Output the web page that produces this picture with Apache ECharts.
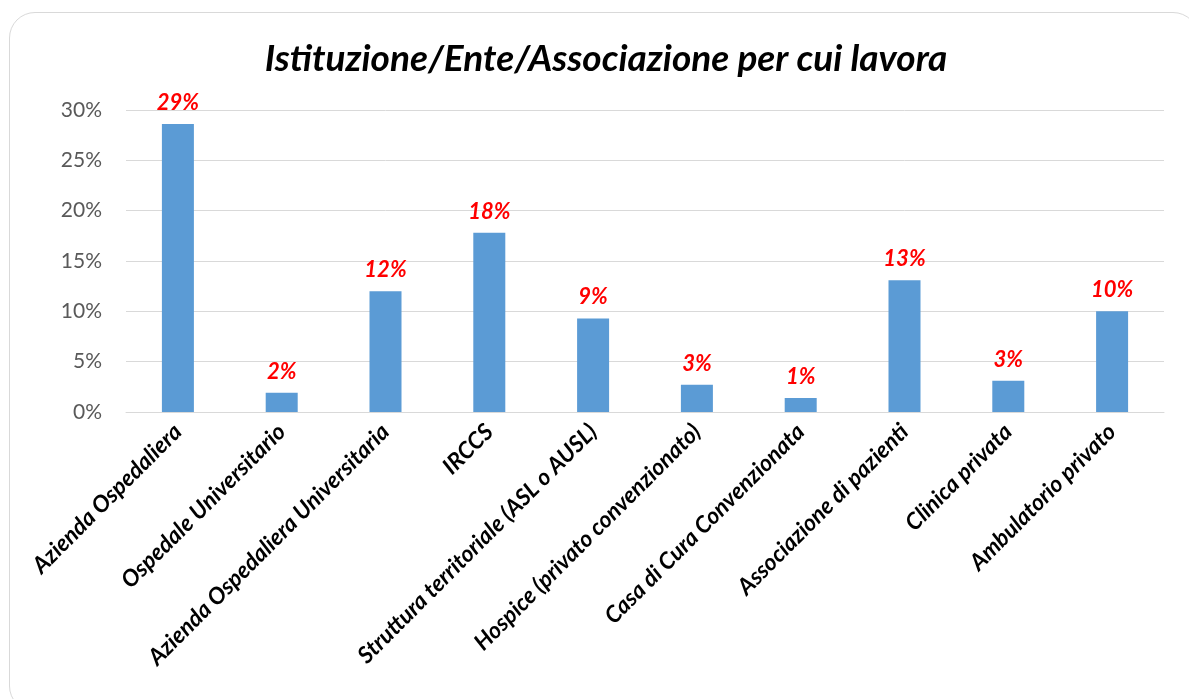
<!DOCTYPE html>
<html lang="it">
<head>
    <meta charset="UTF-8">
    <title>Istituzione/Ente/Associazione per cui lavora</title>
    <script src="https://cdn.jsdelivr.net/npm/echarts@6/dist/echarts.min.js"></script>
    <style>
        html, body { margin: 0; padding: 0; background: #fff; overflow: hidden; }
        #frame {
            position: absolute; left: 9px; top: 12px;
            width: 1190px; height: 700px;
            border: 1px solid #d9d9d9; border-radius: 26px;
            box-sizing: border-box;
        }
        #main { position: absolute; left: 0; top: 0; width: 1189px; height: 699px; }
    </style>
</head>
<body>
    <div id="frame"></div>
    <div id="main"></div>
    <script>
        // categorie e valori (frazione)
        var categorie = [
            'Azienda Ospedaliera',
            'Ospedale Universitario',
            'Azienda Ospedaliera Universitaria',
            'IRCCS',
            'Struttura territoriale (ASL o AUSL)',
            'Hospice (privato convenzionato)',
            'Casa di Cura Convenzionata',
            'Associazione di pazienti',
            'Clinica privata',
            'Ambulatorio privato'
        ];
        var valori = [0.286, 0.019, 0.120, 0.178, 0.093, 0.027, 0.014, 0.131, 0.031, 0.100];
        var tickY = [0, 0.05, 0.10, 0.15, 0.20, 0.25, 0.30];

        var font = 'Lato, "Open Sans", sans-serif';
        var chart = echarts.init(document.getElementById('main'));

        chart.setOption({
            animation: false,
            title: {
                text: 'Istituzione/Ente/Associazione per cui lavora',
                left: 601,
                textAlign: 'center',
                top: 36,
                textStyle: {
                    fontFamily: font,
                    fontSize: 37,
                    fontWeight: 'bold',
                    fontStyle: 'italic',
                    color: '#000'
                }
            },
            grid: { left: 126, right: 25, top: 110, bottom: 287, containLabel: false },
            xAxis: {
                type: 'category',
                data: categorie,
                axisLine: { lineStyle: { color: '#d9d9d9', width: 1 } },
                axisTick: { show: false },
                axisLabel: {
                    interval: 0,
                    rotate: 45,
                    margin: 16,
                    fontFamily: font,
                    fontSize: 23,
                    fontWeight: 'bold',
                    fontStyle: 'italic',
                    color: '#000'
                }
            },
            yAxis: {
                type: 'value',
                min: tickY[0],
                max: tickY[tickY.length - 1],
                interval: 0.05,
                axisLine: { show: false },
                axisTick: { show: false },
                splitLine: { lineStyle: { color: '#d9d9d9', width: 1 } },
                axisLabel: {
                    margin: 24,
                    fontFamily: font,
                    fontSize: 21,
                    color: '#595959',
                    formatter: function (v) { return Math.round(v * 100) + '%'; }
                }
            },
            series: [{
                type: 'bar',
                data: valori,
                barWidth: 32,
                itemStyle: { color: '#5b9bd5' },
                label: {
                    show: true,
                    position: 'top',
                    distance: 10,
                    fontFamily: font,
                    fontSize: 22,
                    fontWeight: 'bold',
                    fontStyle: 'italic',
                    color: '#ff0000',
                    formatter: function (p) { return Math.round(p.value * 100) + '%'; }
                }
            }]
        });
    </script>
</body>
</html>
